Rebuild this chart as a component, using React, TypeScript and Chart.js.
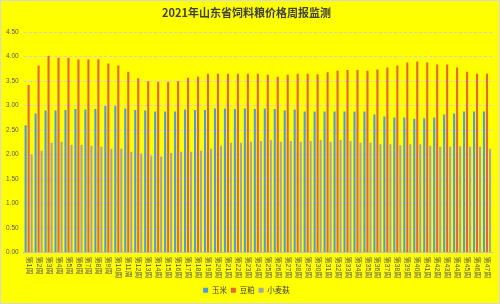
import React, { useEffect, useRef } from 'react';
import { Chart, registerables } from 'chart.js';

Chart.register(...registerables);

const TITLE = '2021年山东省饲料粮价格周报监测';

const weeks = [
  '第1周', '第2周', '第3周', '第4周', '第5周', '第6周', '第7周', '第8周', '第9周', '第10周',
  '第11周', '第12周', '第13周', '第14周', '第15周', '第16周', '第17周', '第18周', '第19周', '第20周',
  '第21周', '第22周', '第23周', '第24周', '第25周', '第26周', '第27周', '第28周', '第29周', '第30周',
  '第31周', '第32周', '第33周', '第34周', '第35周', '第36周', '第37周', '第38周', '第39周', '第40周',
  '第41周', '第42周', '第43周', '第44周', '第45周', '第46周', '第47周',
];

const corn = [
  2.60, 2.84, 2.90, 2.90, 2.91, 2.93, 2.92, 2.93, 2.99, 2.99,
  2.94, 2.91, 2.90, 2.88, 2.88, 2.88, 2.92, 2.91, 2.91, 2.94,
  2.94, 2.93, 2.94, 2.93, 2.94, 2.93, 2.90, 2.92, 2.88, 2.88,
  2.88, 2.88, 2.88, 2.88, 2.88, 2.82, 2.78, 2.76, 2.76, 2.73,
  2.74, 2.76, 2.82, 2.84, 2.88, 2.88, 2.88,
];

const soymeal = [
  3.42, 3.82, 4.02, 3.98, 3.98, 3.94, 3.94, 3.95, 3.86, 3.82,
  3.69, 3.56, 3.50, 3.49, 3.49, 3.50, 3.57, 3.59, 3.65, 3.65,
  3.65, 3.65, 3.65, 3.65, 3.63, 3.59, 3.63, 3.65, 3.65, 3.64,
  3.68, 3.71, 3.73, 3.73, 3.71, 3.74, 3.78, 3.82, 3.88, 3.90,
  3.88, 3.84, 3.84, 3.78, 3.69, 3.65, 3.65,
];

const bran = [
  2.00, 2.08, 2.24, 2.26, 2.20, 2.20, 2.18, 2.16, 2.12, 2.12,
  2.06, 2.02, 1.98, 1.96, 2.03, 2.06, 2.06, 2.08, 2.12, 2.18,
  2.24, 2.24, 2.26, 2.28, 2.30, 2.26, 2.28, 2.26, 2.28, 2.30,
  2.26, 2.30, 2.28, 2.24, 2.24, 2.21, 2.21, 2.19, 2.21, 2.21,
  2.18, 2.16, 2.16, 2.17, 2.16, 2.16, 2.12,
];

const seriesNames = ['玉米', '豆粕', '小麦麸'];
const seriesColors = ['#4E9BE0', '#E8643A', '#A5A5A5'];

const FONT = "'Liberation Sans', 'Noto Sans CJK SC', sans-serif";

const xLabelPlugin = {
  id: 'verticalXLabels',
  afterDraw(chart: any) {
    const scale = chart.scales.x;
    const ctx = chart.ctx;
    ctx.save();
    ctx.font = `7px ${FONT}`;
    ctx.fillStyle = '#595959';
    ctx.textAlign = 'left';
    ctx.textBaseline = 'middle';
    weeks.forEach((w, i) => {
      const px = scale.getPixelForValue(i);
      ctx.save();
      ctx.translate(px, scale.top + 4);
      ctx.rotate(Math.PI / 2);
      ctx.fillText(w, 0, 0);
      ctx.restore();
    });
    ctx.restore();
  },
};

export default function App() {
  const ref = useRef<HTMLCanvasElement>(null);

  useEffect(() => {
    if (!ref.current) return;
    Chart.defaults.font.family = FONT;
    const values = [corn, soymeal, bran];
    const chart = new Chart(ref.current, {
      type: 'bar',
      data: {
        labels: weeks,
        datasets: values.map((d, i) => ({
          label: seriesNames[i],
          data: d,
          backgroundColor: seriesColors[i],
          borderWidth: 0,
          categoryPercentage: 0.9,
          barPercentage: 0.7,
        })),
      },
      options: {
        responsive: false,
        maintainAspectRatio: false,
        animation: false,
        layout: { padding: { left: 1, right: 8, top: 0, bottom: 0 } },
        plugins: {
          title: {
            display: true,
            text: TITLE,
            color: '#404040',
            font: { size: 11, weight: 'bold', family: "'Noto Sans CJK SC', sans-serif" },
            padding: { top: 6, bottom: 13 },
          },
          legend: {
            position: 'bottom',
            labels: {
              boxWidth: 5,
              boxHeight: 5,
              padding: 4,
              color: '#404040',
              font: { size: 7.5, family: "'Noto Sans CJK SC', sans-serif" },
            },
          },
          tooltip: { enabled: false },
        },
        scales: {
          x: {
            grid: { display: false },
            border: { display: true, color: '#BFBFBF' },
            ticks: { display: false },
            afterFit: (s: any) => {
              s.height = 30;
            },
          },
          y: {
            min: 0,
            max: 4.5,
            ticks: {
              stepSize: 0.5,
              color: '#595959',
              font: { size: 6.5 },
              padding: 5,
              callback: (v: any) => Number(v).toFixed(2),
            },
            grid: { color: '#D0D0E0', drawTicks: false },
            border: { display: false, dash: [3, 2] },
          },
        },
      },
      plugins: [xLabelPlugin],
    });
    return () => chart.destroy();
  }, []);

  return (
    <div
      style={{
        position: 'absolute',
        left: 0,
        top: 0,
        width: 500,
        height: 304,
        background: '#FFFF00',
        boxShadow: 'inset 0 0 0 1px #D9D9D9',
      }}
    >
      <canvas ref={ref} width={500} height={304} style={{ display: 'block' }} />
    </div>
  );
}
